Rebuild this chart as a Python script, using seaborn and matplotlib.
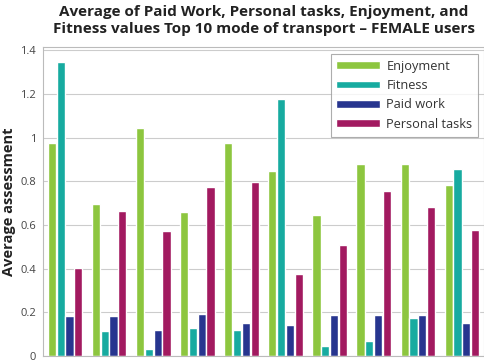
import matplotlib
matplotlib.use("Agg")
import matplotlib.pyplot as plt
import seaborn as sns
import pandas as pd
from matplotlib.ticker import FuncFormatter

modes = [f"Mode {i}" for i in range(1, 11)]
enjoyment = [0.975, 0.694, 1.042, 0.659, 0.975, 0.845, 0.644, 0.880, 0.880, 0.782]
fitness = [1.347, 0.116, 0.030, 0.130, 0.120, 1.179, 0.047, 0.069, 0.175, 0.858]
paid_work = [0.181, 0.181, 0.120, 0.194, 0.153, 0.141, 0.1875, 0.1875, 0.1875, 0.153]
personal_tasks = [0.403, 0.663, 0.571, 0.776, 0.796, 0.376, 0.510, 0.756, 0.683, 0.578]
series_names = ["Enjoyment", "Fitness", "Paid work", "Personal tasks"]
colors = ["#8dc63f", "#17aba0", "#27358f", "#a21a60"]

rows = []
for name, vals in zip(series_names, [enjoyment, fitness, paid_work, personal_tasks]):
    for m, v in zip(modes, vals):
        rows.append({"mode": m, "series": name, "value": v})
df = pd.DataFrame(rows)

sns.set_theme(style="white")
plt.rcParams['font.family'] = ['Open Sans', 'DejaVu Sans']

fig = plt.figure(figsize=(4.85, 3.6), dpi=100)
ax = fig.add_axes([43/485, 4/360, 441/485, 309/360])

sns.barplot(data=df, x="mode", y="value", hue="series", hue_order=series_names,
            palette=colors, ax=ax, width=0.8, gap=0.07, saturation=1, errorbar=None)

ax.set_xlim(-0.5, 9.5)
ax.set_ylim(0, 1.415)
ax.set_yticks([0, 0.2, 0.4, 0.6, 0.8, 1.0, 1.2, 1.4])
ax.yaxis.set_major_formatter(FuncFormatter(lambda v, p: f"{v:.1f}".rstrip('0').rstrip('.') if v != 0 else "0"))
ax.tick_params(axis='y', labelsize=8, colors='#444444', length=3, width=0.6, pad=2)
ax.tick_params(axis='y', color='#bbbbbb')
ax.set_xticks([])
ax.set_xlabel("")
ax.set_ylabel("Average assessment", fontsize=10.5, fontweight='bold', color='#222222', labelpad=3)
ax.grid(axis='y', color='#cccccc', linewidth=0.8)
ax.set_axisbelow(True)
for s in ax.spines.values():
    s.set_color('#bbbbbb')
    s.set_linewidth(0.8)

fig.text(264/485, 1 - 5/360, "Average of Paid Work, Personal tasks, Enjoyment, and\nFitness values Top 10 mode of transport \u2013 FEMALE users",
         ha='center', va='top', fontsize=11, fontweight='bold', color='#222222', linespacing=1.25)

leg = ax.legend(loc='upper right', bbox_to_anchor=(0.9955, 0.99), fontsize=9.2, frameon=True,
                fancybox=False, edgecolor='#999999', handlelength=3.4, handleheight=0.55,
                borderpad=0.45, labelspacing=0.5, handletextpad=0.5, borderaxespad=0.3)
leg.get_frame().set_linewidth(0.8)
for t in leg.get_texts():
    t.set_color('#333333')

fig.savefig("out.png", dpi=100)
